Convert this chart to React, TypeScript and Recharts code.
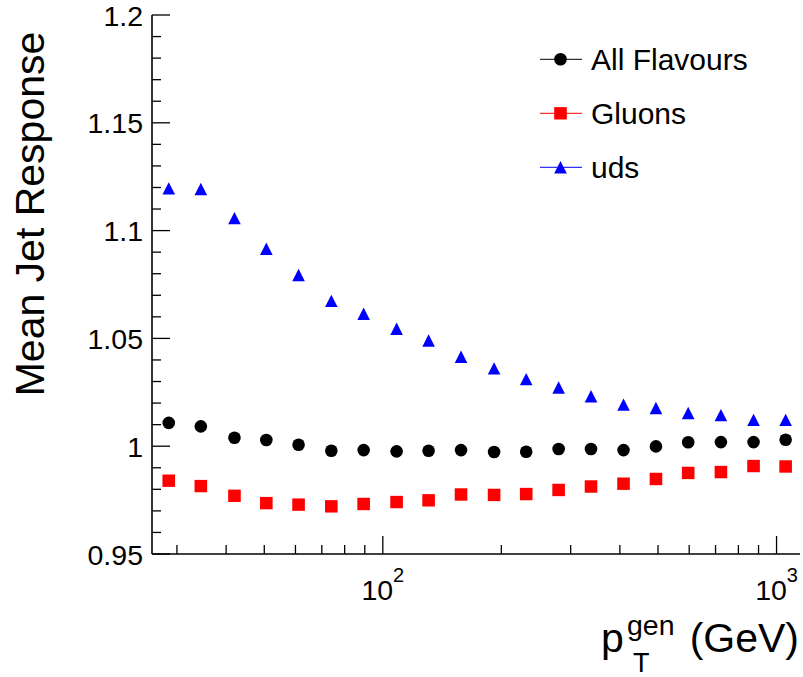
import React from 'react';
import { ScatterChart, Scatter, XAxis, YAxis, Legend } from 'recharts';

const ptGen = [28.6, 34.5, 42, 50.6, 61.1, 74, 89.4, 108.4, 130.7, 158, 191.7, 231.3, 279.6, 337.9, 408.7, 494, 596.5, 722.3, 874.2, 1054.6];
const allFlavours = [1.0108, 1.0092, 1.0039, 1.0029, 1.0007, 0.9979, 0.9982, 0.9976, 0.9979, 0.9982, 0.9973, 0.9974, 0.9987, 0.9987, 0.9982, 0.9999, 1.0018, 1.0019, 1.0019, 1.003];
const gluons = [0.984, 0.9815, 0.977, 0.9736, 0.9729, 0.9721, 0.9732, 0.9741, 0.9749, 0.9776, 0.9774, 0.9778, 0.9797, 0.9813, 0.9826, 0.9848, 0.9876, 0.988, 0.9908, 0.9906];
const uds = [1.1196, 1.1193, 1.1058, 1.0916, 1.0794, 1.0674, 1.0614, 1.0545, 1.049, 1.0415, 1.0361, 1.0311, 1.0272, 1.0232, 1.0193, 1.0177, 1.0154, 1.0144, 1.0122, 1.0122];

const seriesNames = ['All Flavours', 'Gluons', 'uds'];
const seriesColors = ['#000000', '#ff0000', '#0000ff'];
const seriesShapes = ['circle', 'square', 'triangle'];

const xMajorTicks = [100, 1000];
const xMinorTicks = [30, 40, 50, 60, 70, 80, 90, 200, 300, 400, 500, 600, 700, 800, 900];
const xTickExponents = ['2', '3'];
const yMajorTicks = [0.95, 1, 1.05, 1.1, 1.15, 1.2];
const yTickLabels = ['0.95', '1', '1.05', '1.1', '1.15', '1.2'];
const yMinorTicks = [0.96, 0.97, 0.98, 0.99, 1.01, 1.02, 1.03, 1.04, 1.06, 1.07, 1.08, 1.09, 1.11, 1.12, 1.13, 1.14, 1.16, 1.17, 1.18, 1.19];

const xDomain = [25.93, 1147];
const yDomain = [0.95, 1.2];

const FONT = '"Liberation Sans", Arial, Helvetica, sans-serif';
const MAJOR = 18;
const MINOR = 9;

const toData = (ys: number[]) => ptGen.map((x, i) => ({ x, y: ys[i] }));
const seriesData = [toData(allFlavours), toData(gluons), toData(uds)];

const xTicksAll = [...xMinorTicks, ...xMajorTicks].sort((a, b) => a - b);
const yTicksAll = [...yMinorTicks, ...yMajorTicks].sort((a, b) => a - b);

const isMajor = (list: number[], v: number) => list.findIndex((m) => Math.abs(m - v) < 1e-9);

function Marker({ shape, cx, cy, color }: { shape: string; cx: number; cy: number; color: string }) {
  if (shape === 'circle') return <circle cx={cx} cy={cy} r={6.3} fill={color} />;
  if (shape === 'square') return <rect x={cx - 6.3} y={cy - 6.2} width={12.6} height={12.4} fill={color} />;
  const h = 12.4;
  const w = 12.6;
  return (
    <polygon
      points={`${cx},${cy - h / 2} ${cx + w / 2},${cy + h / 2} ${cx - w / 2},${cy + h / 2}`}
      fill={color}
    />
  );
}

const BottomTick = (props: any) => {
  const { x, y, payload } = props;
  const mi = isMajor(xMajorTicks, payload.value);
  const len = mi >= 0 ? MAJOR : MINOR;
  return (
    <g>
      <line x1={x} y1={y} x2={x} y2={y - len} stroke="#000" strokeWidth={1.3} />
      {mi >= 0 && (
        <text x={x} y={600} textAnchor="middle" fontSize={28.5} fontFamily={FONT} fill="#000">
          <tspan>10</tspan>
          <tspan dy={-18} fontSize={20}>{xTickExponents[mi]}</tspan>
        </text>
      )}
    </g>
  );
};

const TopTick = (props: any) => {
  const { x, y, payload } = props;
  const mi = isMajor(xMajorTicks, payload.value);
  const len = mi >= 0 ? MAJOR : MINOR;
  return <line x1={x} y1={y} x2={x} y2={y + len} stroke="#000" strokeWidth={1.3} />;
};

const LeftTick = (props: any) => {
  const { x, y, payload } = props;
  const mi = isMajor(yMajorTicks, payload.value);
  const len = mi >= 0 ? MAJOR : MINOR;
  return (
    <g>
      <line x1={x} y1={y} x2={x + len} y2={y} stroke="#000" strokeWidth={1.3} />
      {mi >= 0 && (
        <text x={x - 9} y={y + 10.5} textAnchor="end" fontSize={28.5} fontFamily={FONT} fill="#000">
          {yTickLabels[mi]}
        </text>
      )}
    </g>
  );
};

const RightTick = (props: any) => {
  const { x, y, payload } = props;
  const mi = isMajor(yMajorTicks, payload.value);
  const len = mi >= 0 ? MAJOR : MINOR;
  return <line x1={x} y1={y} x2={x - len} y2={y} stroke="#000" strokeWidth={1.3} />;
};

const LegendContent = (props: any) => {
  const payload = props.payload || [];
  return (
    <svg width={260} height={170} style={{ display: 'block' }}>
      {payload.map((entry: any, i: number) => {
        const idx = seriesNames.indexOf(entry.value);
        const cy = 29.3 + i * 54;
        const color = seriesColors[idx];
        return (
          <g key={entry.value}>
            <line x1={10} y1={cy} x2={52} y2={cy} stroke={color} strokeWidth={1} />
            <Marker shape={seriesShapes[idx]} cx={30.5} cy={cy} color={color} />
            <text x={61} y={cy + 10.7} fontSize={30} fontFamily={FONT} fill="#000">
              {entry.value}
            </text>
          </g>
        );
      })}
    </svg>
  );
};

export default function App() {
  return (
    <div style={{ position: 'absolute', left: 0, top: 0, width: 803, height: 677, background: '#fff', fontFamily: FONT }}>
      <ScatterChart width={803} height={677} margin={{ top: 15, right: 3, bottom: 0, left: 0 }}>
        <XAxis
          xAxisId="bottom"
          dataKey="x"
          type="number"
          scale="log"
          domain={xDomain}
          allowDataOverflow
          ticks={xTicksAll}
          interval={0}
          orientation="bottom"
          height={123}
          tickSize={0}
          tickMargin={0}
          tickLine={false}
          axisLine={{ stroke: '#000', strokeWidth: 1.6 }}
          tick={BottomTick}
        />
        <XAxis
          xAxisId="top"
          type="number"
          scale="log"
          domain={xDomain}
          allowDataOverflow
          ticks={xTicksAll}
          interval={0}
          orientation="top"
          height={0}
          tickSize={0}
          tickMargin={0}
          tickLine={false}
          axisLine={{ stroke: '#000', strokeWidth: 1.6 }}
          tick={TopTick}
        />
        <YAxis
          yAxisId="left"
          dataKey="y"
          type="number"
          domain={yDomain}
          allowDataOverflow
          ticks={yTicksAll}
          interval={0}
          orientation="left"
          width={152}
          tickSize={0}
          tickMargin={0}
          tickLine={false}
          axisLine={{ stroke: '#000', strokeWidth: 1.6 }}
          tick={LeftTick}
        />
        <YAxis
          yAxisId="right"
          type="number"
          domain={yDomain}
          allowDataOverflow
          ticks={yTicksAll}
          interval={0}
          orientation="right"
          width={0}
          tickSize={0}
          tickMargin={0}
          tickLine={false}
          axisLine={{ stroke: '#000', strokeWidth: 1.6 }}
          tick={RightTick}
        />
        <Legend
          layout="vertical"
          align="center"
          verticalAlign="middle"
          wrapperStyle={{ left: 530, top: 30, width: 260, height: 170 }}
          content={LegendContent}
        />
        {seriesNames.map((name, i) => (
          <Scatter
            key={name}
            name={name}
            data={seriesData[i]}
            xAxisId="bottom"
            yAxisId="left"
            fill={seriesColors[i]}
            isAnimationActive={false}
            shape={(p: any) => <Marker shape={seriesShapes[i]} cx={p.cx} cy={p.cy} color={seriesColors[i]} />}
          />
        ))}
      </ScatterChart>
      <svg
        width={803}
        height={677}
        style={{ position: 'absolute', left: 0, top: 0, pointerEvents: 'none' }}
      >
        <text
          x={44}
          y={214}
          transform="rotate(-90, 44, 214)"
          textAnchor="middle"
          fontSize={41}
          fontFamily={FONT}
          fill="#000"
        >
          Mean Jet Response
        </text>
        <text x={601} y={652} fontSize={41} fontFamily={FONT} fill="#000">p</text>
        <text x={627} y={635} fontSize={28.5} fontFamily={FONT} fill="#000">gen</text>
        <text x={633} y={672} fontSize={27} fontFamily={FONT} fill="#000">T</text>
        <text x={799} y={652} textAnchor="end" fontSize={41} fontFamily={FONT} fill="#000">(GeV)</text>
      </svg>
    </div>
  );
}
